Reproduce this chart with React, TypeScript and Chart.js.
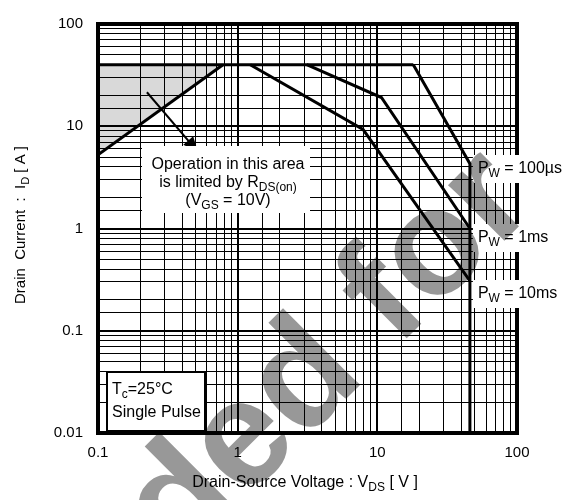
import React, { useEffect, useRef } from 'react';
import { Chart, registerables } from 'chart.js';

Chart.register(...registerables);

const FAMILY = '"Liberation Sans", Arial, sans-serif';

// Axis tick labels (decades)
const xTickLabels = [0.1, 1, 10, 100];
const yTickLabels = [0.01, 0.1, 1, 10, 100];

// Safe operating area boundaries (VDS [V], ID [A])
const currentLimitV = [0.1, 18.1];
const currentLimitA = [40, 40];
const rdsLimitV = [0.1, 0.785];
const rdsLimitA = [5.26, 40];
const pw100usV = [18.1, 46, 46];
const pw100usA = [40, 4.3, 0.01];
const pw1msV = [3.12, 10.7, 46];
const pw1msA = [40, 19.1, 1.0];
const pw10msV = [1.23, 7.9, 46];
const pw10msA = [40, 9.3, 0.308];

// Arrow pointing into the RDS(on) limited area
const arrowV = [0.224, 0.52];
const arrowA = [21.5, 5.61];

const pwLabels = ['100µs', '1ms', '10ms'];

type Part = { t: string; sub?: boolean };

const isDecade = (v: number) => {
  if (!v || v <= 0) return false;
  const l = Math.log10(v);
  return Math.abs(l - Math.round(l)) < 1e-6;
};

const pts = (xs: number[], ys: number[]) => xs.map((x, i) => ({ x, y: ys[i] }));

function drawRich(ctx: CanvasRenderingContext2D, parts: Part[], x: number, y: number, align: 'left' | 'center', size: number) {
  const subSize = Math.round(size * 0.72);
  const f = (s: number) => `${s}px ${FAMILY}`;
  let w = 0;
  for (const p of parts) {
    ctx.font = f(p.sub ? subSize : size);
    w += ctx.measureText(p.t).width;
  }
  let cx = align === 'center' ? x - w / 2 : x;
  ctx.textBaseline = 'middle';
  ctx.textAlign = 'left';
  for (const p of parts) {
    ctx.font = f(p.sub ? subSize : size);
    ctx.fillText(p.t, cx, p.sub ? y + size * 0.3 : y);
    cx += ctx.measureText(p.t).width;
  }
  return w;
}

function richWidth(ctx: CanvasRenderingContext2D, parts: Part[], size: number) {
  const subSize = Math.round(size * 0.72);
  let w = 0;
  for (const p of parts) {
    ctx.font = `${p.sub ? subSize : size}px ${FAMILY}`;
    w += ctx.measureText(p.t).width;
  }
  return w;
}

const decorPlugin = {
  id: 'decor',
  beforeDraw(chart: any) {
    const ctx = chart.ctx;
    ctx.save();
    ctx.fillStyle = '#fff';
    ctx.fillRect(0, 0, chart.width, chart.height);
    ctx.restore();
  },
  afterDraw(chart: any) {
    const { ctx, chartArea: a, scales } = chart;
    const xs = scales.x;
    const ys = scales.y;
    ctx.save();

    // plot frame
    ctx.lineWidth = 4;
    ctx.strokeStyle = '#000';
    ctx.strokeRect(a.left, a.top, a.right - a.left, a.bottom - a.top);

    // arrow
    const x0 = xs.getPixelForValue(arrowV[0]);
    const y0 = ys.getPixelForValue(arrowA[0]);
    const x1 = xs.getPixelForValue(arrowV[1]);
    const y1 = ys.getPixelForValue(arrowA[1]);
    const ang = Math.atan2(y1 - y0, x1 - x0);
    const hl = 15;
    const hw = 6.5;
    ctx.lineWidth = 2;
    ctx.beginPath();
    ctx.moveTo(x0, y0);
    ctx.lineTo(x1 - Math.cos(ang) * hl * 0.8, y1 - Math.sin(ang) * hl * 0.8);
    ctx.stroke();
    ctx.fillStyle = '#000';
    ctx.beginPath();
    ctx.moveTo(x1, y1);
    ctx.lineTo(x1 - Math.cos(ang) * hl - Math.sin(ang) * hw, y1 - Math.sin(ang) * hl + Math.cos(ang) * hw);
    ctx.lineTo(x1 - Math.cos(ang) * hl + Math.sin(ang) * hw, y1 - Math.sin(ang) * hl - Math.cos(ang) * hw);
    ctx.closePath();
    ctx.fill();

    // Operation text box
    ctx.fillStyle = '#fff';
    ctx.fillRect(142, 146, 168, 67);
    ctx.fillStyle = '#000';
    const cx = 228;
    drawRich(ctx, [{ t: 'Operation in this area' }], cx, 165, 'center', 16);
    drawRich(ctx, [{ t: 'is limited by R' }, { t: 'DS(on)', sub: true }], cx, 183, 'center', 16);
    drawRich(ctx, [{ t: '(V' }, { t: 'GS', sub: true }, { t: ' = 10V)' }], cx, 201, 'center', 16);

    // Pulse width labels
    const lx = xs.getPixelForValue(pw100usV[1]) + 8;
    const labelY = [169, 238, 294];
    pwLabels.forEach((lab, i) => {
      const parts: Part[] = [{ t: 'P' }, { t: 'W', sub: true }, { t: ' = ' + lab }];
      const w = richWidth(ctx, parts, 16);
      ctx.fillStyle = '#fff';
      ctx.fillRect(lx - 5, labelY[i] - 14, w + 10, 28);
      ctx.fillStyle = '#000';
      drawRich(ctx, parts, lx, labelY[i], 'left', 16);
    });

    // Tc box
    ctx.fillStyle = '#fff';
    ctx.fillRect(107, 372, 98, 59);
    ctx.lineWidth = 2;
    ctx.strokeStyle = '#000';
    ctx.strokeRect(107, 372, 98, 59);
    ctx.fillStyle = '#000';
    drawRich(ctx, [{ t: 'T' }, { t: 'c', sub: true }, { t: '=25°C' }], 112, 390, 'left', 16);
    drawRich(ctx, [{ t: 'Single Pulse' }], 112, 413, 'left', 16);

    // axis titles
    drawRich(ctx, [{ t: 'Drain-Source Voltage : V' }, { t: 'DS', sub: true }, { t: ' [ V ]' }], 305, 483, 'center', 16);
    ctx.save();
    ctx.translate(21, 225);
    ctx.rotate(-Math.PI / 2);
    drawRich(ctx, [{ t: 'Drain  Current  :  I' }, { t: 'D', sub: true }, { t: ' [ A ]' }], 0, 0, 'center', 15);
    ctx.restore();

    // watermark
    ctx.save();
    ctx.globalCompositeOperation = 'multiply';
    ctx.fillStyle = '#989898';
    ctx.font = `bold 150px ${FAMILY}`;
    ctx.textAlign = 'left';
    ctx.textBaseline = 'alphabetic';
    const pre = 'Not Recommended f';
    const w1 = ctx.measureText(pre).width;
    const wo = ctx.measureText('o').width;
    ctx.translate(437, 253);
    ctx.rotate(-Math.PI / 4);
    ctx.fillText('Not Recommended for', -(w1 + wo / 2), 150 * 0.26);
    ctx.restore();

    ctx.restore();
  },
};

export default function App() {
  const ref = useRef<HTMLCanvasElement | null>(null);
  useEffect(() => {
    if (!ref.current) return;
    const lineDs = (data: { x: number; y: number }[], extra: any = {}) => ({
      data,
      borderColor: '#000',
      borderWidth: 3,
      pointRadius: 0,
      fill: false,
      tension: 0,
      ...extra,
    });
    const gridWidth = (c: any) => (c.tick && isDecade(c.tick.value) ? 2 : 1);
    const chart = new Chart(ref.current, {
      type: 'line',
      data: {
        datasets: [
          lineDs(pts(rdsLimitV, rdsLimitA), { fill: { value: 40 }, backgroundColor: 'rgba(0,0,0,0.15)' }),
          lineDs(pts(currentLimitV, currentLimitA)),
          lineDs(pts(pw100usV, pw100usA)),
          lineDs(pts(pw1msV, pw1msA)),
          lineDs(pts(pw10msV, pw10msA)),
        ] as any,
      },
      options: {
        animation: false,
        responsive: false,
        events: [],
        layout: { padding: { left: 0, top: 14, right: 56, bottom: 0 } },
        plugins: {
          legend: { display: false },
          tooltip: { enabled: false },
          filler: { propagate: false },
        },
        scales: {
          x: {
            type: 'logarithmic',
            min: 0.1,
            max: 100,
            border: { display: false },
            grid: { color: '#000', lineWidth: gridWidth, drawTicks: false },
            ticks: {
              autoSkip: false,
              maxRotation: 0,
              padding: 11,
              color: '#000',
              font: { size: 15, family: FAMILY },
              callback: (v: any) => {
                const t = xTickLabels.find((d) => Math.abs(Math.log10(d) - Math.log10(Number(v))) < 1e-6);
                return t === undefined ? '' : String(t);
              },
            },
            afterFit: (s: any) => {
              s.height = 67;
            },
          },
          y: {
            type: 'logarithmic',
            min: 0.01,
            max: 100,
            border: { display: false },
            grid: { color: '#000', lineWidth: gridWidth, drawTicks: false },
            ticks: {
              autoSkip: false,
              padding: 15,
              color: '#000',
              font: { size: 15, family: FAMILY },
              callback: (v: any) => {
                const t = yTickLabels.find((d) => Math.abs(Math.log10(d) - Math.log10(Number(v))) < 1e-6);
                return t === undefined ? '' : String(t);
              },
            },
            afterFit: (s: any) => {
              s.width = 98;
            },
          },
        },
      } as any,
      plugins: [decorPlugin],
    });
    return () => chart.destroy();
  }, []);
  return (
    <div style={{ position: 'absolute', left: 0, top: 0, width: 573, height: 500 }}>
      <canvas ref={ref} width={573} height={500} style={{ display: 'block' }} />
    </div>
  );
}
